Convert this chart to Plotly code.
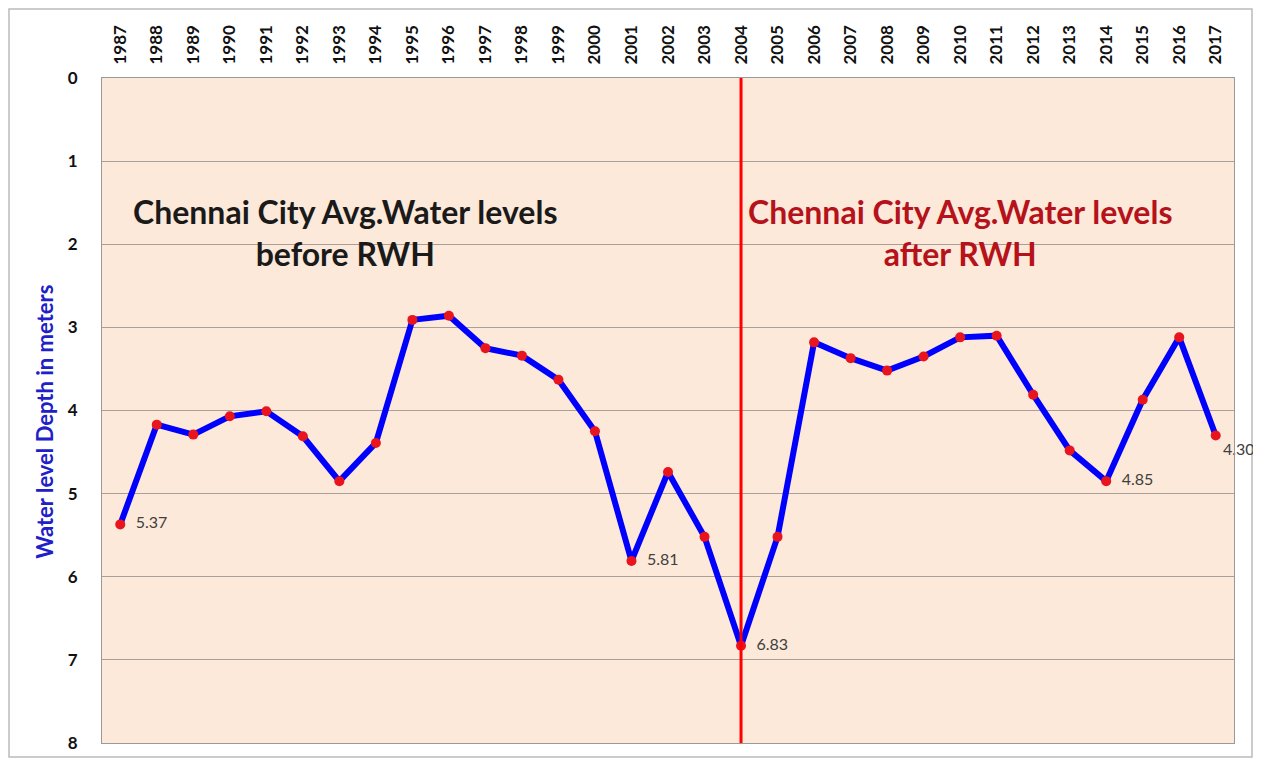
import plotly.graph_objects as go

years = [str(y) for y in range(1987, 2018)]
depth = [5.37, 4.17, 4.29, 4.07, 4.01, 4.31, 4.85, 4.39, 2.91, 2.86,
         3.25, 3.34, 3.63, 4.25, 5.81, 4.74, 5.52, 6.83, 5.52, 3.18,
         3.37, 3.52, 3.35, 3.12, 3.10, 3.81, 4.48, 4.85, 3.87, 3.12, 4.30]
labelled = {"1987": "middle right", "2001": "middle right", "2004": "middle right",
            "2014": "middle right", "2017": "bottom right"}
rwh_year = "2004"
y_ticks = [0, 1, 2, 3, 4, 5, 6, 7, 8]

texts = [("  %.2f" % v if labelled[y] == "middle right" else "%.2f" % v) if y in labelled else ""
         for y, v in zip(years, depth)]
positions = [labelled.get(y, "middle right") for y in years]

FONT = "Lato, Open Sans, sans-serif"

fig = go.Figure()
fig.add_trace(go.Scatter(
    x=years, y=depth, mode="lines+markers+text",
    line=dict(color="#0000FF", width=6),
    marker=dict(color="#E8141E", size=10),
    text=texts, textposition=positions,
    textfont=dict(family=FONT, size=16, color="#404040"),
    showlegend=False, cliponaxis=False,
))

rwh_idx = years.index(rwh_year)
fig.add_shape(type="line", xref="x", yref="paper", x0=rwh_idx, x1=rwh_idx, y0=0, y1=1,
              line=dict(color="#FF0000", width=3), layer="above")

# outer frame
fig.add_shape(type="rect", xref="paper", yref="paper",
              x0=-93/1132, x1=1150/1132, y0=-14/665, y1=1 + 69/665,
              line=dict(color="#BBBBBB", width=1.5), layer="below")

fig.add_annotation(xref="paper", yref="paper", x=0.2147, y=0.767, xanchor="center", yanchor="middle",
                   text="<b>Chennai City Avg.Water levels<br>before RWH</b>",
                   showarrow=False, align="center",
                   font=dict(family=FONT, size=32, color="#1A1A1A"))
fig.add_annotation(xref="paper", yref="paper", x=0.758, y=0.767, xanchor="center", yanchor="middle",
                   text="<b>Chennai City Avg.Water levels<br>after RWH</b>",
                   showarrow=False, align="center",
                   font=dict(family=FONT, size=32, color="#B5121B"))

# y-axis title (placed as in the reference, slightly below centre)
fig.add_annotation(xref="paper", yref="paper", x=-57/1132, y=0.483, xanchor="center", yanchor="middle",
                   text="<b>Water level Depth in meters</b>", textangle=-90, showarrow=False,
                   font=dict(family=FONT, size=22, color="#2020C8"))

fig.update_layout(
    width=1253, height=753,
    margin=dict(l=94, r=27, t=70, b=18),
    paper_bgcolor="white",
    plot_bgcolor="#FDE9D9",
    font=dict(family=FONT),
    xaxis=dict(type="category", side="top", range=[-0.5, 30.5], tickangle=-90,
               showgrid=False, showline=True, linecolor="#999999", mirror=True,
               ticks="", ticklabelstandoff=9, automargin=False,
               tickfont=dict(size=17, color="#111111", family=FONT, weight="bold")),
    yaxis=dict(range=[8, 0], tickvals=y_ticks, showgrid=True, gridcolor="#A8A098", gridwidth=1.2,
               zeroline=False, showline=True, linecolor="#999999", mirror=True,
               ticks="", ticklabelstandoff=20, automargin=False,
               tickfont=dict(size=17, color="#111111", family=FONT, weight="bold")),
)

fig.write_html("out.html")
